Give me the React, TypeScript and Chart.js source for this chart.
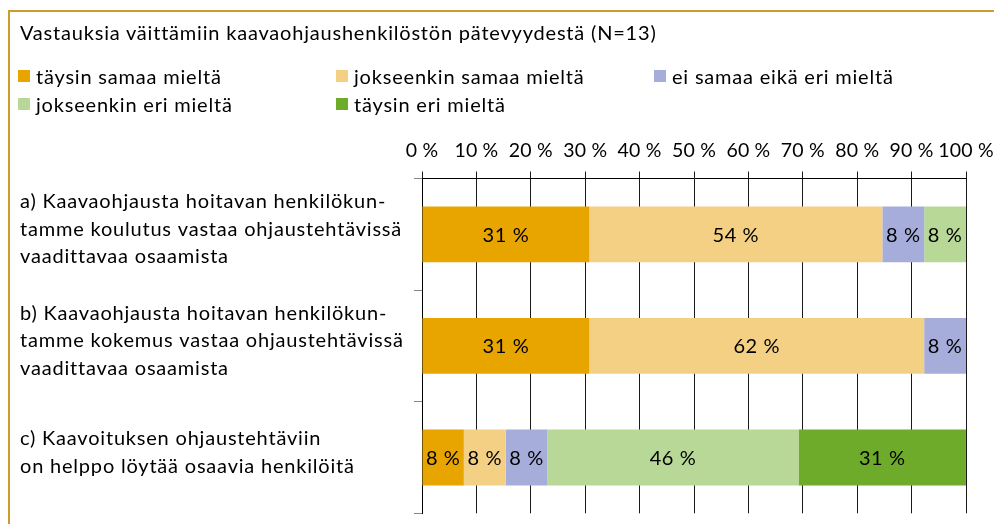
import { useEffect, useRef } from 'react';
import { Chart, registerables } from 'chart.js';

Chart.register(...registerables);

const FONT = 'Lato, "Open Sans", sans-serif';

const title = 'Vastauksia väittämiin kaavaohjaushenkilöstön pätevyydestä (N=13)';

const categories = [
  ['a) Kaavaohjausta hoitavan henkilökun-', 'tamme koulutus vastaa ohjaustehtävissä', 'vaadittavaa osaamista'],
  ['b) Kaavaohjausta hoitavan henkilökun-', 'tamme kokemus vastaa ohjaustehtävissä', 'vaadittavaa osaamista'],
  ['c) Kaavoituksen ohjaustehtäviin', 'on helppo löytää osaavia henkilöitä'],
];

const seriesNames = [
  'täysin samaa mieltä',
  'jokseenkin samaa mieltä',
  'ei samaa eikä eri mieltä',
  'jokseenkin eri mieltä',
  'täysin eri mieltä',
];

const taysinSamaa = [30.77, 30.77, 7.69];
const jokseenkinSamaa = [53.85, 61.54, 7.69];
const eiSamaaEikaEri = [7.69, 7.69, 7.69];
const jokseenkinEri = [7.69, 0, 46.15];
const taysinEri = [0, 0, 30.77];

const seriesValues = [taysinSamaa, jokseenkinSamaa, eiSamaaEikaEri, jokseenkinEri, taysinEri];

const seriesColors = ['#E8A500', '#F4D084', '#A6ADDA', '#B8D898', '#6FAB2A'];

const xTickLabels = ['0 %', '10 %', '20 %', '30 %', '40 %', '50 %', '60 %', '70 %', '80 %', '90 %', '100 %'];

const legendRows = [
  [0, 1, 2],
  [3, 4],
];

function patchLabels(s: any, spacing: string, dy: number) {
  if (s.__patched) return;
  s.__patched = true;
  const orig = s.drawLabels;
  s.drawLabels = function (area: any) {
    const c = this.ctx;
    c.save();
    c.letterSpacing = spacing;
    c.translate(0, dy);
    orig.call(this, area);
    c.restore();
  };
}

export default function App() {
  const ref = useRef<HTMLCanvasElement>(null);

  useEffect(() => {
    const valueLabels = {
      id: 'valueLabels',
      afterDatasetsDraw(chart: any) {
        const ctx = chart.ctx;
        ctx.save();
        ctx.font = `20px ${FONT}`;
        ctx.letterSpacing = '0.6px';
        ctx.fillStyle = '#000';
        ctx.textAlign = 'center';
        ctx.textBaseline = 'middle';
        chart.data.datasets.forEach((ds: any, di: number) => {
          const meta = chart.getDatasetMeta(di);
          meta.data.forEach((el: any, i: number) => {
            const v = ds.data[i];
            if (!v) return;
            const p = el.getCenterPoint();
            ctx.fillText(`${Math.round(v)} %`, p.x, p.y + 1);
          });
        });
        ctx.restore();
      },
    };

    const chart = new Chart(ref.current as HTMLCanvasElement, {
      type: 'bar',
      data: {
        labels: categories as any,
        datasets: seriesNames.map((name, i) => ({
          label: name,
          data: seriesValues[i],
          backgroundColor: seriesColors[i],
          borderWidth: 0,
          barPercentage: 0.5,
          categoryPercentage: 1,
        })),
      },
      options: {
        indexAxis: 'y',
        responsive: false,
        animation: false,
        layout: { padding: { left: 12, right: 28, top: 110.5, bottom: 10.7 } },
        plugins: {
          legend: { display: false },
          tooltip: { enabled: false },
        },
        scales: {
          x: {
            position: 'top',
            stacked: true,
            min: 0,
            max: 100,
            ticks: {
              stepSize: 10,
              autoSkip: false,
              maxRotation: 0,
              padding: 9,
              color: '#000',
              font: { family: FONT, size: 19.5 },
              callback: (_v: any, i: number) => xTickLabels[i],
            },
            grid: { color: '#1a1a1a', tickLength: 7, lineWidth: 1 },
            border: { color: '#000' },
            afterFit: (s: any) => {
              s.height = 60;
              s.paddingLeft = 0;
              s.paddingRight = 0;
              patchLabels(s, '0.2px', 0);
            },
          },
          y: {
            stacked: true,
            ticks: {
              crossAlign: 'far',
              autoSkip: false,
              color: '#000',
              font: { family: FONT, size: 20, lineHeight: 1.375 },
            },
            grid: { drawOnChartArea: false, tickLength: 8, color: '#888', offset: true },
            border: { color: '#000' },
            afterFit: (s: any) => {
              s.width = 402;
              s.paddingTop = 0;
              s.paddingBottom = 0;
              patchLabels(s, '0.8px', -5);
            },
          },
        },
      } as any,
      plugins: [valueLabels],
    });
    return () => chart.destroy();
  }, []);

  return (
    <div style={{ position: 'fixed', left: 0, top: 0, width: 994, height: 524, overflow: 'hidden', background: '#fff' }}>
      <div style={{ position: 'absolute', left: 8, top: 8, width: 986, height: 516, overflow: 'hidden', fontFamily: FONT, color: '#000' }}>
        <div
          style={{
            position: 'absolute',
            left: 0,
            top: 2,
            width: 2000,
            height: 2000,
            borderTop: '2px solid #CF9B2E',
            borderLeft: '2px solid #CF9B2E',
          }}
        />
        <canvas ref={ref} width={986} height={516} style={{ position: 'absolute', left: 0, top: 0, width: 986, height: 516 }} />
        <div style={{ position: 'absolute', left: 12, top: 12, fontSize: 20, lineHeight: '24px', letterSpacing: '0.8px', whiteSpace: 'nowrap' }}>{title}</div>
        {legendRows.map((row, ri) =>
          row.map((si, ci) => (
            <div
              key={`${ri}-${ci}`}
              style={{
                position: 'absolute',
                left: 10 + ci * 318,
                top: 54 + ri * 28,
                height: 28,
                display: 'flex',
                alignItems: 'center',
                fontSize: 20,
                letterSpacing: '0.8px',
                whiteSpace: 'nowrap',
              }}
            >
              <span style={{ display: 'inline-block', width: 12, height: 12, background: seriesColors[si], marginRight: 6 }} />
              <span>{seriesNames[si]}</span>
            </div>
          ))
        )}
      </div>
    </div>
  );
}
